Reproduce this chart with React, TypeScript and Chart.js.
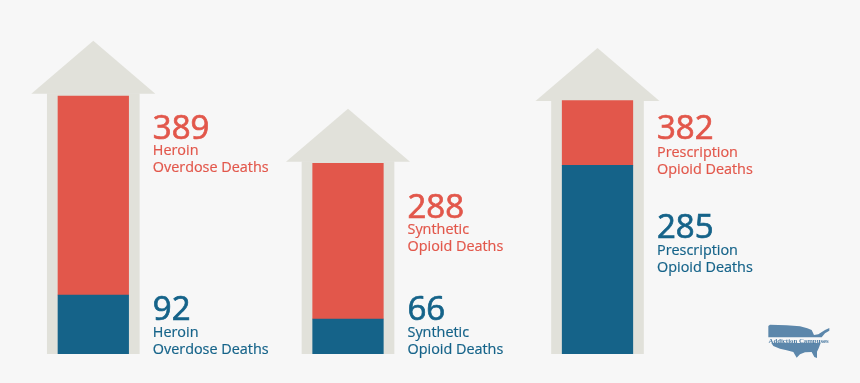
import React, { useEffect, useRef } from "react";
import { Chart, registerables } from "chart.js";

Chart.register(...registerables);

// Printed figures and captions
const categories = ["Heroin", "Synthetic", "Prescription"];
const redValues = ["389", "288", "382"];
const blueValues = ["92", "66", "285"];
const redCaptions = [
  ["Heroin", "Overdose Deaths"],
  ["Synthetic", "Opioid Deaths"],
  ["Prescription", "Opioid Deaths"],
];
const blueCaptions = [
  ["Heroin", "Overdose Deaths"],
  ["Synthetic", "Opioid Deaths"],
  ["Prescription", "Opioid Deaths"],
];

// Segment heights: the original's bars are not
// proportional to its printed figures, so the drawn heights are kept apart.
const blueHeights = [59, 35, 188.7];
const redHeights = [199, 155.7, 64.6];
const shaftHeights = [260.3, 192.3, 253];

// Layout
const columnCentres = [93.3, 348, 597.5];
const redBaselines = [139, 217.5, 139];
const blueBaselines = [319.5, 319.5, 237.5];
const redCaptionBaselines = [155, 234, 157];
const blueCaptionBaselines = [337, 337, 255];
const TEXT_GAP = 24.2;
const INK = { red: "#e2574b", blue: "#156389", shaft: "#e1e1da", logo: "#5c87ab", page: "#f7f7f7" };
const FONT = '"Open Sans", sans-serif';

const points = (values: number[]) => values.map((y, i) => ({ x: columnCentres[i], y }));

const arrowAndText = {
  id: "arrowAndText",
  beforeDatasetsDraw(chart: any) {
    const { ctx } = chart;
    ctx.save();
    ctx.fillStyle = INK.shaft;
    chart.getDatasetMeta(2).data.forEach((bar: any) => {
      ctx.beginPath();
      ctx.moveTo(bar.x - 62, bar.y);
      ctx.lineTo(bar.x, bar.y - 53);
      ctx.lineTo(bar.x + 62, bar.y);
      ctx.closePath();
      ctx.fill();
    });
    ctx.restore();
  },
  afterDatasetsDraw(chart: any) {
    const { ctx } = chart;
    const bars = chart.getDatasetMeta(0).data;
    ctx.save();
    ctx.textAlign = "left";
    ctx.textBaseline = "alphabetic";
    const block = (x: number, y: number, capY: number, value: string, lines: string[], color: string) => {
      ctx.fillStyle = color;
      ctx.strokeStyle = color;
      ctx.font = `33px ${FONT}`;
      ctx.lineWidth = 0.7;
      ctx.fillText(value, x, y);
      ctx.strokeText(value, x, y);
      ctx.font = `14.4px ${FONT}`;
      ctx.lineWidth = 0.2;
      lines.forEach((line, i) => {
        ctx.fillText(line, x, capY + i * 17);
        ctx.strokeText(line, x, capY + i * 17);
      });
    };
    bars.forEach((bar: any, i: number) => {
      const x = bar.x + bar.width / 2 + TEXT_GAP;
      block(x, redBaselines[i], redCaptionBaselines[i], redValues[i], redCaptions[i], INK.red);
      block(x, blueBaselines[i], blueCaptionBaselines[i], blueValues[i], blueCaptions[i], INK.blue);
    });

    // Publisher's mark, bottom right
    const tr = (zx: number, zy: number): [number, number] => [750 + zx / 3, 315 + zy / 3];
    const shape = (pts: number[][]) => {
      ctx.beginPath();
      pts.forEach(([a, b], i) => {
        const [px, py] = tr(a, b);
        if (i === 0) ctx.moveTo(px, py);
        else ctx.lineTo(px, py);
      });
      ctx.closePath();
      ctx.fill();
    };
    ctx.fillStyle = INK.logo;
    ctx.filter = "blur(0.4px)";
    shape([[55, 33], [60, 29], [110, 31], [150, 34], [172, 40], [185, 45], [192, 60], [205, 58], [225, 45], [238, 39], [238, 47], [225, 55], [215, 67], [55, 67]]);
    shape([[64, 84], [212, 84], [206, 100], [201, 110], [201, 129], [193, 126], [185, 111], [165, 112], [150, 118], [140, 128], [130, 111], [110, 106], [90, 101], [70, 93]]);
    ctx.font = 'bold 6.8px "Liberation Serif", serif';
    ctx.fillStyle = "#4d7ca3";
    ctx.fillText("Addiction Campuses", 768.5, 342.5);
    ctx.restore();
  },
};

export default function App() {
  const ref = useRef<HTMLCanvasElement>(null);
  useEffect(() => {
    if (!ref.current) return;
    const chart = new Chart(ref.current, {
      type: "bar",
      data: {
        labels: categories,
        datasets: [
          { label: "Blue", data: points(blueHeights), backgroundColor: INK.blue, stack: "deaths", barThickness: 70.6, grouped: false, order: 1 },
          { label: "Red", data: points(redHeights), backgroundColor: INK.red, stack: "deaths", barThickness: 70.6, grouped: false, order: 1 },
          { label: "Arrow", data: points(shaftHeights), backgroundColor: INK.shaft, stack: "shaft", barThickness: 92, grouped: false, order: 2 },
        ] as any,
      },
      options: {
        animation: false,
        responsive: false,
        layout: { padding: { left: 0, right: 0, top: 0, bottom: 29 } },
        plugins: { legend: { display: false }, tooltip: { enabled: false }, title: { display: false } },
        scales: {
          x: { type: "linear", min: 0, max: 860, offset: false, display: false },
          y: { stacked: true, min: 0, max: 354, display: false },
        },
      },
      plugins: [arrowAndText],
    });
    return () => chart.destroy();
  }, []);
  return (
    <div style={{ position: "fixed", left: 0, top: 0, width: 860, height: 383, background: INK.page, overflow: "hidden" }}>
      <canvas ref={ref} width={860} height={383} style={{ display: "block", width: 860, height: 383 }} />
    </div>
  );
}
